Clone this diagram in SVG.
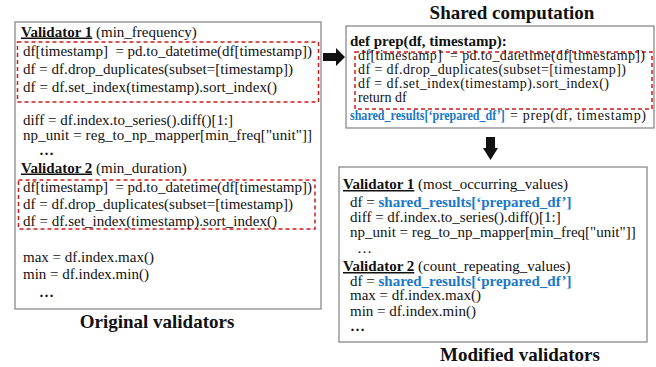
<svg xmlns="http://www.w3.org/2000/svg" width="656" height="367" viewBox="0 0 656 367">
<style>
text{font-family:"Liberation Serif","Times New Roman",serif;fill:#111;white-space:pre}
.c{font-size:15px}
.s{font-size:14px}
.b{font-weight:bold}
.u{text-decoration:underline}
.t{font-size:19px;font-weight:bold;text-anchor:middle}
.blue{fill:#1a78c8;font-weight:bold}
.box{fill:#fff;stroke:#8a8a8a;stroke-width:1.3}
.dash{fill:none;stroke:#d11a1a;stroke-width:1.5;stroke-dasharray:4 3}
.arr{fill:#111}
</style>
<rect width="656" height="367" fill="#fff"/>

<g id="original">
<rect class="box" x="15" y="22" width="306" height="287"/>
<rect class="dash" x="17.5" y="42" width="301" height="60"/>
<rect class="dash" x="18.5" y="180" width="296.5" height="49"/>
<text class="c" x="21" y="36.5"><tspan class="b u">Validator 1</tspan> (min_frequency)</text>
<text class="c" x="23" y="55.5" textLength="289">df[timestamp]  = pd.to_datetime(df[timestamp])</text>
<text class="c" x="23" y="73.5" textLength="270">df = df.drop_duplicates(subset=[timestamp])</text>
<text class="c" x="23" y="91.5" textLength="254">df = df.set_index(timestamp).sort_index()</text>
<text class="c" x="23" y="125" textLength="210">diff = df.index.to_series().diff()[1:]</text>
<text class="c" x="23" y="139.5" textLength="289">np_unit = reg_to_np_mapper[min_freq["unit"]]</text>
<text class="c b" x="39" y="155">…</text>
<text class="c" x="21" y="172.5"><tspan class="b u">Validator 2</tspan> (min_duration)</text>
<text class="c" x="23" y="191.5" textLength="289">df[timestamp]  = pd.to_datetime(df[timestamp])</text>
<text class="c" x="23" y="209" textLength="270">df = df.drop_duplicates(subset=[timestamp])</text>
<text class="c" x="23" y="226" textLength="254">df = df.set_index(timestamp).sort_index()</text>
<text class="c" x="23" y="261.5">max = df.index.max()</text>
<text class="c" x="23" y="279">min = df.index.min()</text>
<text class="c b" x="39" y="297">…</text>
<text class="t" x="157" y="328">Original validators</text>
</g>

<g id="shared">
<text class="t" x="512" y="19">Shared computation</text>
<rect class="box" x="346" y="26" width="308" height="102"/>
<rect class="dash" x="355" y="52" width="297" height="57"/>
<text class="c b" x="350" y="45.5">def prep(df, timestamp):</text>
<text class="s" x="358" y="60" textLength="287">df[timestamp]  = pd.to_datetime(df[timestamp])</text>
<text class="s" x="358" y="74" textLength="268">df = df.drop_duplicates(subset=[timestamp])</text>
<text class="s" x="358" y="88" textLength="251">df = df.set_index(timestamp).sort_index()</text>
<text class="s" x="358" y="102">return df</text>
<text class="s blue" transform="translate(350,120) scale(0.86,1)">shared_results[‘prepared_df’]</text>
<text class="s" x="510" y="120" textLength="136">= prep(df, timestamp)</text>
</g>

<g id="modified">
<rect class="box" x="339" y="167" width="308" height="175"/>
<text class="c" x="343" y="189"><tspan class="b u">Validator 1</tspan> (most_occurring_values)</text>
<text class="c" x="350" y="207">df = <tspan class="blue">shared_results[‘prepared_df’]</tspan></text>
<text class="c" x="350" y="221.5">diff = df.index.to_series().diff()[1:]</text>
<text class="c" x="350" y="236.5">np_unit = reg_to_np_mapper[min_freq["unit"]]</text>
<text class="c" x="357" y="253">…</text>
<text class="c" x="343" y="271"><tspan class="b u">Validator 2</tspan> (count_repeating_values)</text>
<text class="c" x="350" y="285.5">df = <tspan class="blue">shared_results[‘prepared_df’]</tspan></text>
<text class="c" x="350" y="300">max = df.index.max()</text>
<text class="c" x="350" y="315.5">min = df.index.min()</text>
<text class="c b" x="350" y="331">…</text>
<text class="t" x="520" y="361">Modified validators</text>
</g>

<g id="connectors">
<polygon class="arr" points="323,53 336,53 336,48 345,57 336,66 336,61 323,61"/>
<polygon class="arr" points="486,137 495,137 495,148 498,148 490.5,160 483,148 486,148"/>
</g>
</svg>
